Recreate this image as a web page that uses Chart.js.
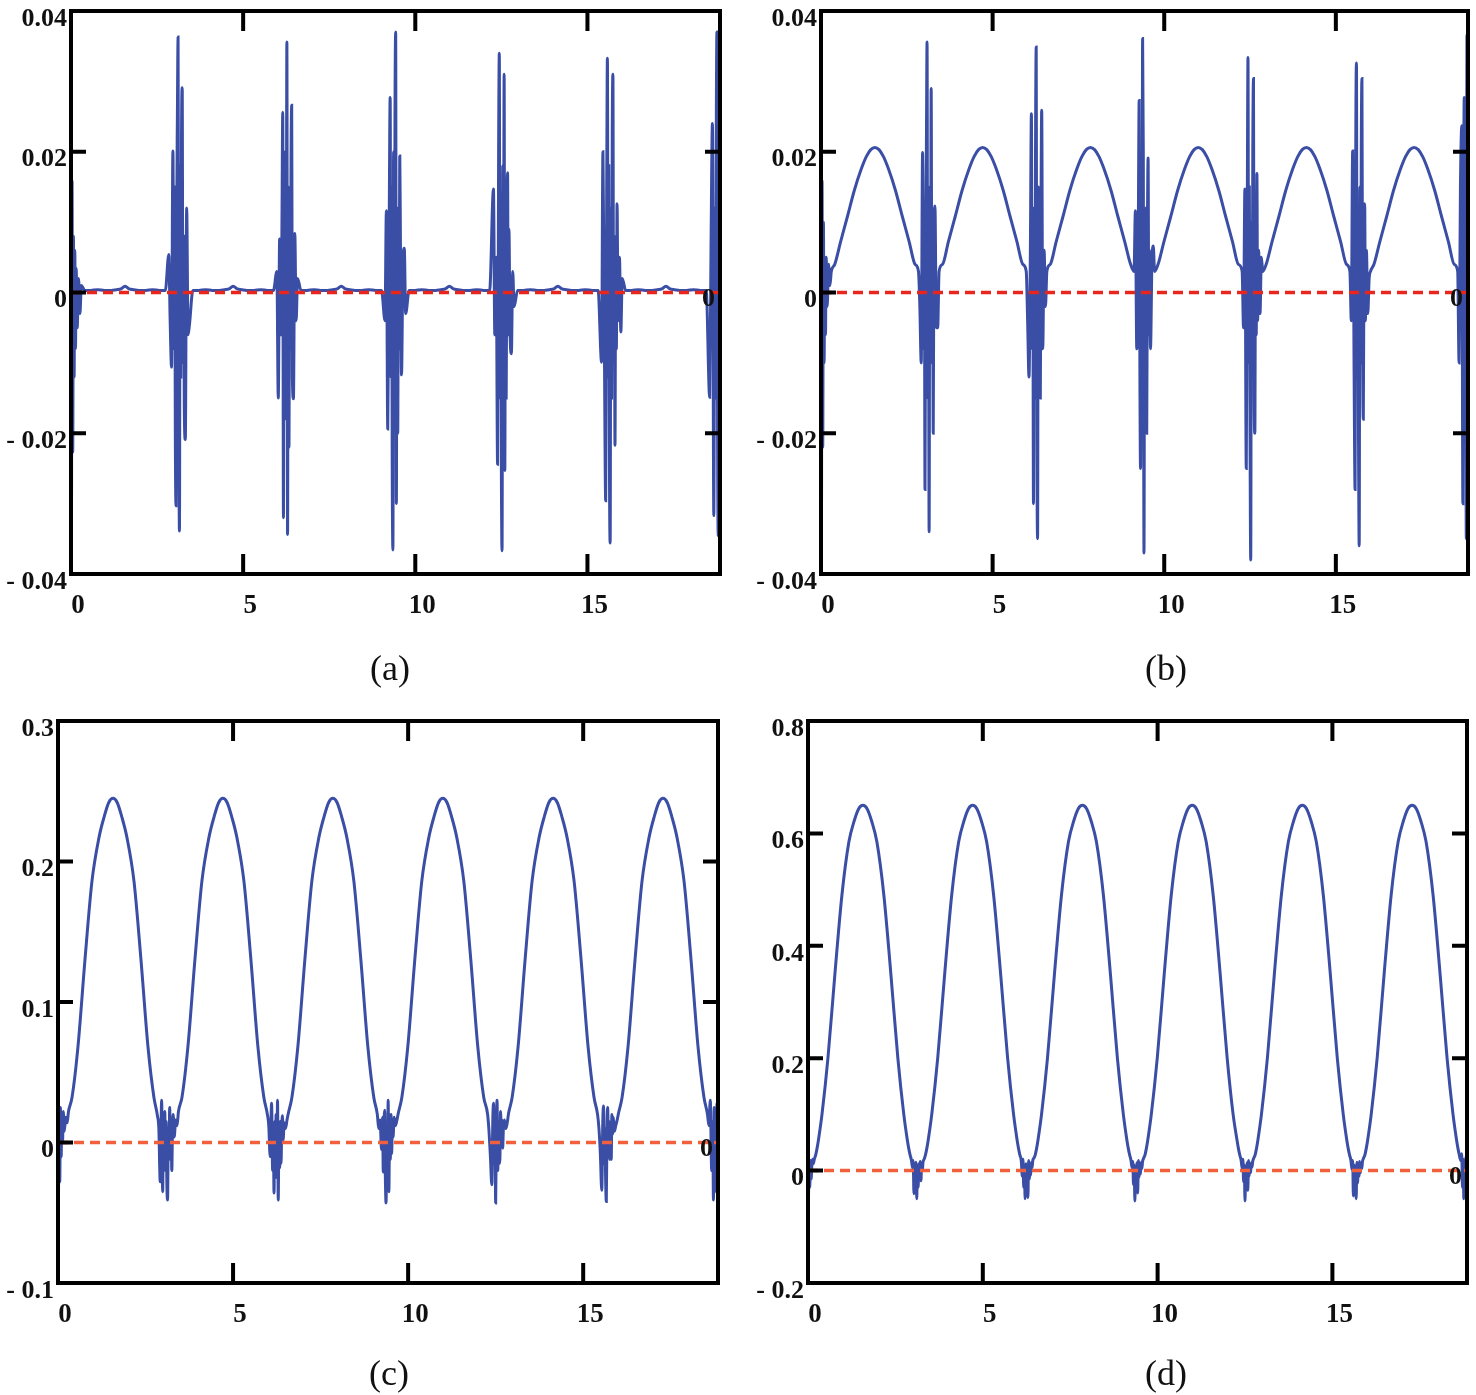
<!DOCTYPE html>
<html>
<head>
<meta charset="utf-8">
<script src="https://cdn.jsdelivr.net/npm/chart.js@4.4.1/dist/chart.umd.min.js"></script>
<style>
  body { margin: 0; background: #fff; width: 1476px; height: 1395px; position: relative; overflow: hidden; }
  canvas { position: absolute; }
  .cap { position: absolute; font-family: 'Liberation Serif', 'Times New Roman', serif; font-size: 36px; color: #111; transform: translate(-50%, -50%); }
</style>
</head>
<body>
<canvas id="chartA"></canvas>
<canvas id="chartB"></canvas>
<canvas id="chartC"></canvas>
<canvas id="chartD"></canvas>
<div class="cap" style="left:390px; top:668px">(a)</div>
<div class="cap" style="left:1166px; top:668px">(b)</div>
<div class="cap" style="left:389px; top:1373px">(c)</div>
<div class="cap" style="left:1166px; top:1373px">(d)</div>

<script>
// ===== Data =====
// shared time axis: a noise burst around every multiple of pi, a smooth arch in between
const xs = [
  0.00, 0.01, 0.03, 0.05, 0.07, 0.09, 0.11, 0.13, 0.15, 0.18, 0.22, 0.26, 0.30,
  0.40, 0.57, 0.77, 0.97, 1.17, 1.32, 1.45, 1.57, 1.69, 1.82, 1.97, 2.17, 2.37, 2.57, 2.74,
  2.84, 2.88, 2.92, 2.96, 2.99, 3.01, 3.03, 3.05, 3.07, 3.09, 3.11, 3.13, 3.15, 3.17, 3.19, 3.21, 3.23, 3.25, 3.27, 3.29, 3.32, 3.36, 3.40, 3.44,
  3.54, 3.71, 3.91, 4.11, 4.31, 4.46, 4.59, 4.71, 4.83, 4.96, 5.11, 5.31, 5.51, 5.71, 5.88,
  5.98, 6.02, 6.06, 6.10, 6.13, 6.15, 6.17, 6.19, 6.21, 6.23, 6.25, 6.27, 6.29, 6.31, 6.33, 6.35, 6.37, 6.39, 6.41, 6.43, 6.46, 6.50, 6.54, 6.58,
  6.68, 6.85, 7.05, 7.25, 7.45, 7.60, 7.73, 7.85, 7.97, 8.10, 8.25, 8.45, 8.65, 8.85, 9.02,
  9.12, 9.16, 9.20, 9.24, 9.27, 9.29, 9.31, 9.33, 9.35, 9.37, 9.39, 9.41, 9.43, 9.45, 9.47, 9.49, 9.51, 9.53, 9.55, 9.57, 9.60, 9.64, 9.68, 9.72,
  9.82, 9.99, 10.19, 10.39, 10.59, 10.74, 10.87, 10.99, 11.11, 11.24, 11.39, 11.59, 11.79, 11.99, 12.16,
  12.27, 12.31, 12.35, 12.39, 12.42, 12.44, 12.46, 12.48, 12.50, 12.52, 12.54, 12.56, 12.58, 12.60, 12.62, 12.64, 12.66, 12.68, 12.70, 12.72, 12.75, 12.79, 12.83, 12.87,
  12.97, 13.14, 13.34, 13.54, 13.74, 13.89, 14.02, 14.14, 14.26, 14.39, 14.54, 14.74, 14.94, 15.14, 15.31,
  15.41, 15.45, 15.49, 15.53, 15.56, 15.58, 15.60, 15.62, 15.64, 15.66, 15.68, 15.70, 15.72, 15.74, 15.76, 15.78, 15.80, 15.82, 15.84, 15.86, 15.89, 15.93, 15.97, 16.01,
  16.11, 16.28, 16.48, 16.68, 16.88, 17.03, 17.16, 17.28, 17.40, 17.53, 17.68, 17.88, 18.08, 18.28, 18.45,
  18.55, 18.59, 18.63, 18.67, 18.70, 18.72, 18.74, 18.76, 18.78, 18.80, 18.82, 18.84, 18.85
];

// (a)
const yA = [
  0.0337, -0.0400, 0.0159, -0.0227, 0.0080, -0.0120, 0.0060, -0.0080, 0.0034, -0.0050, 0.0020, -0.0030, 0.0010,
  0.0003, 0.0003, 0.0004, 0.0003, 0.0003, 0.0004, 0.0005, 0.0009, 0.0005, 0.0004, 0.0003, 0.0003, 0.0004, 0.0003, 0.0003,
  0.0054, -0.0040, -0.0106, 0.0201, -0.0080, 0.0150, -0.0200, -0.0303, 0.0100, 0.0250, 0.0363, -0.0150, -0.0339, 0.0180, -0.0120, 0.0220, 0.0291, -0.0100, 0.0080, -0.0160, -0.0209, 0.0120, -0.0060, -0.0046,
  0.0003, 0.0003, 0.0004, 0.0003, 0.0003, 0.0004, 0.0005, 0.0009, 0.0005, 0.0004, 0.0003, 0.0003, 0.0004, 0.0003, 0.0003,
  0.0030, -0.0150, 0.0076, -0.0060, 0.0120, 0.0256, -0.0320, 0.0080, -0.0180, 0.0200, -0.0100, 0.0356, -0.0344, 0.0150, -0.0220, 0.0100, -0.0080, 0.0180, 0.0266, -0.0120, -0.0151, 0.0084, -0.0040, 0.0020,
  0.0003, 0.0003, 0.0004, 0.0003, 0.0003, 0.0004, 0.0005, 0.0009, 0.0005, 0.0004, 0.0003, 0.0003, 0.0004, 0.0003, 0.0003,
  -0.0040, 0.0116, -0.0194, 0.0080, 0.0277, -0.0120, 0.0150, -0.0250, -0.0366, 0.0200, -0.0150, 0.0250, 0.0370, -0.0300, 0.0120, -0.0200, 0.0090, -0.0080, 0.0194, 0.0060, -0.0117, 0.0040, 0.0063, -0.0030,
  0.0003, 0.0003, 0.0004, 0.0003, 0.0003, 0.0004, 0.0005, 0.0009, 0.0005, 0.0004, 0.0003, 0.0003, 0.0004, 0.0003, 0.0003,
  0.0147, -0.0060, 0.0050, -0.0244, 0.0200, 0.0340, -0.0150, 0.0120, -0.0250, -0.0367, 0.0180, -0.0100, 0.0310, -0.0253, 0.0120, -0.0150, 0.0080, 0.0170, -0.0060, 0.0090, -0.0050, -0.0087, 0.0030, -0.0020,
  0.0003, 0.0003, 0.0004, 0.0003, 0.0003, 0.0004, 0.0005, 0.0009, 0.0005, 0.0004, 0.0003, 0.0003, 0.0004, 0.0003, 0.0003,
  -0.0099, 0.0200, -0.0060, -0.0296, 0.0150, 0.0333, -0.0120, 0.0180, -0.0250, -0.0356, 0.0120, -0.0150, 0.0220, 0.0310, -0.0100, 0.0080, -0.0217, 0.0060, -0.0080, 0.0126, -0.0040, 0.0050, -0.0056, 0.0020,
  0.0003, 0.0003, 0.0004, 0.0003, 0.0003, 0.0004, 0.0005, 0.0009, 0.0005, 0.0004, 0.0003, 0.0003, 0.0004, 0.0003, 0.0003,
  -0.0149, 0.0069, 0.0240, -0.0317, 0.0120, -0.0150, 0.0200, 0.0370, -0.0200, -0.0346, 0.0277, -0.0150, 0.0100
];

// (b)
const yB = [
  0.0330, -0.0400, 0.0159, -0.0220, 0.0100, -0.0100, 0.0044, -0.0060, 0.0050, -0.0020, 0.0040, 0.0010, 0.0030,
  0.0040, 0.0072, 0.0108, 0.0145, 0.0175, 0.0193, 0.0203, 0.0206, 0.0203, 0.0193, 0.0175, 0.0145, 0.0108, 0.0072, 0.0040,
  0.0030, -0.0020, -0.0100, 0.0199, -0.0080, 0.0120, -0.0280, 0.0080, 0.0200, 0.0356, -0.0150, 0.0100, -0.0340, 0.0150, -0.0100, 0.0290, -0.0080, 0.0060, -0.0200, 0.0080, 0.0123, -0.0050, -0.0050, 0.0030,
  0.0040, 0.0072, 0.0108, 0.0145, 0.0175, 0.0193, 0.0203, 0.0206, 0.0203, 0.0193, 0.0175, 0.0145, 0.0108, 0.0072, 0.0040,
  0.0030, -0.0040, -0.0120, 0.0060, 0.0254, -0.0080, 0.0100, -0.0300, 0.0120, -0.0150, 0.0200, 0.0349, -0.0200, -0.0350, 0.0150, -0.0100, 0.0080, -0.0150, 0.0120, 0.0259, -0.0080, 0.0060, -0.0020, 0.0030,
  0.0040, 0.0072, 0.0108, 0.0145, 0.0175, 0.0193, 0.0203, 0.0206, 0.0203, 0.0193, 0.0175, 0.0145, 0.0108, 0.0072, 0.0040,
  0.0030, 0.0116, -0.0080, 0.0050, 0.0273, -0.0100, -0.0250, 0.0120, -0.0150, 0.0361, 0.0200, -0.0370, 0.0100, -0.0150, 0.0120, -0.0200, 0.0080, 0.0191, -0.0060, 0.0060, -0.0080, 0.0040, 0.0066, 0.0030,
  0.0040, 0.0072, 0.0108, 0.0145, 0.0175, 0.0193, 0.0203, 0.0206, 0.0203, 0.0193, 0.0175, 0.0145, 0.0108, 0.0072, 0.0040,
  0.0030, -0.0050, 0.0147, -0.0250, 0.0120, 0.0334, -0.0100, 0.0150, -0.0200, -0.0380, 0.0100, -0.0120, 0.0200, 0.0304, -0.0150, -0.0200, 0.0080, -0.0060, 0.0169, -0.0040, 0.0060, -0.0030, 0.0050, 0.0030,
  0.0040, 0.0072, 0.0108, 0.0145, 0.0175, 0.0193, 0.0203, 0.0206, 0.0203, 0.0193, 0.0175, 0.0145, 0.0108, 0.0072, 0.0040,
  0.0030, -0.0040, 0.0201, -0.0100, -0.0280, 0.0200, 0.0326, -0.0120, 0.0100, -0.0200, -0.0360, 0.0150, -0.0100, 0.0200, 0.0304, -0.0080, -0.0180, 0.0060, 0.0126, -0.0040, 0.0060, -0.0030, 0.0020, 0.0030,
  0.0040, 0.0072, 0.0108, 0.0145, 0.0175, 0.0193, 0.0203, 0.0206, 0.0203, 0.0193, 0.0175, 0.0145, 0.0108, 0.0072, 0.0040,
  0.0030, -0.0100, 0.0150, 0.0237, -0.0300, 0.0080, 0.0277, -0.0150, 0.0120, -0.0350, 0.0366, -0.0200, 0.0100
];

// (c)
const yC = [
  0.028, -0.046, 0.020, -0.028, 0.025, -0.010, 0.018, 0.000, 0.022, 0.008, 0.018, 0.014, 0.022,
  0.032, 0.068, 0.130, 0.186, 0.217, 0.232, 0.242, 0.245, 0.242, 0.232, 0.217, 0.186, 0.130, 0.068, 0.032,
  0.019, 0.010, -0.028, 0.030, -0.035, 0.012, -0.015, 0.022, -0.020, 0.015, -0.030, -0.041, 0.010, -0.012, 0.025, -0.008, 0.015, -0.020, 0.010, 0.020, 0.004, 0.016, 0.012, 0.022,
  0.032, 0.068, 0.130, 0.186, 0.217, 0.232, 0.242, 0.245, 0.242, 0.232, 0.217, 0.186, 0.130, 0.068, 0.032,
  0.020, 0.012, -0.010, 0.028, -0.020, 0.010, -0.036, 0.015, -0.010, 0.020, -0.025, 0.030, -0.041, 0.008, -0.018, 0.015, -0.015, 0.010, 0.019, 0.002, 0.014, 0.010, 0.016, 0.021,
  0.032, 0.068, 0.130, 0.186, 0.217, 0.232, 0.242, 0.245, 0.242, 0.232, 0.217, 0.186, 0.130, 0.068, 0.032,
  0.020, 0.010, 0.016, -0.005, 0.018, -0.021, 0.010, 0.023, -0.025, -0.043, 0.012, -0.015, 0.030, -0.035, 0.010, -0.012, 0.020, -0.008, 0.015, 0.004, 0.018, 0.012, 0.016, 0.021,
  0.032, 0.068, 0.130, 0.186, 0.217, 0.232, 0.242, 0.245, 0.242, 0.232, 0.217, 0.186, 0.130, 0.068, 0.032,
  0.020, 0.008, -0.010, -0.030, 0.018, 0.028, -0.015, 0.012, -0.043, 0.010, 0.030, -0.020, 0.015, -0.015, -0.012, 0.022, 0.005, 0.016, -0.004, 0.010, 0.016, 0.010, 0.014, 0.021,
  0.032, 0.068, 0.130, 0.186, 0.217, 0.232, 0.242, 0.245, 0.242, 0.232, 0.217, 0.186, 0.130, 0.068, 0.032,
  0.020, 0.010, -0.008, -0.034, 0.015, 0.026, -0.015, 0.010, -0.025, -0.042, 0.012, 0.025, -0.010, 0.015, -0.012, 0.005, -0.012, 0.020, 0.006, 0.018, 0.008, 0.012, 0.016, 0.021,
  0.032, 0.068, 0.130, 0.186, 0.217, 0.232, 0.242, 0.245, 0.242, 0.232, 0.217, 0.186, 0.130, 0.068, 0.032,
  0.020, 0.012, 0.030, -0.020, 0.015, -0.041, 0.025, -0.030, 0.020, -0.035, 0.028, -0.025, 0.010
];

// (d)
const yD = [
  0.020, -0.057, 0.015, -0.030, 0.018, -0.015, 0.010, 0.020, 0.012, 0.020, 0.028, 0.040, 0.055,
  0.100, 0.200, 0.350, 0.490, 0.585, 0.622, 0.644, 0.650, 0.644, 0.622, 0.585, 0.490, 0.350, 0.200, 0.100,
  0.055, 0.040, 0.028, 0.018, 0.005, 0.018, -0.041, 0.010, -0.020, 0.015, -0.050, 0.005, -0.030, 0.012, -0.015, 0.016, -0.018, 0.010, 0.000, 0.015, 0.020, 0.028, 0.040, 0.055,
  0.100, 0.200, 0.350, 0.490, 0.585, 0.622, 0.644, 0.650, 0.644, 0.622, 0.585, 0.490, 0.350, 0.200, 0.100,
  0.055, 0.040, 0.028, 0.018, -0.010, 0.020, -0.030, 0.010, -0.050, 0.012, -0.020, 0.010, -0.048, 0.018, -0.015, 0.012, -0.008, 0.015, 0.005, 0.018, 0.022, 0.028, 0.040, 0.055,
  0.100, 0.200, 0.350, 0.490, 0.585, 0.622, 0.644, 0.650, 0.644, 0.622, 0.585, 0.490, 0.350, 0.200, 0.100,
  0.055, 0.040, 0.028, 0.018, 0.005, 0.016, -0.025, 0.010, -0.054, 0.008, -0.020, 0.014, -0.040, 0.018, -0.012, 0.012, -0.006, 0.015, 0.004, 0.016, 0.022, 0.028, 0.040, 0.055,
  0.100, 0.200, 0.350, 0.490, 0.585, 0.622, 0.644, 0.650, 0.644, 0.622, 0.585, 0.490, 0.350, 0.200, 0.100,
  0.055, 0.040, 0.028, 0.018, 0.004, 0.020, -0.020, 0.010, -0.054, 0.008, -0.030, 0.014, -0.035, 0.018, -0.010, 0.012, -0.004, 0.014, 0.006, 0.016, 0.022, 0.028, 0.040, 0.055,
  0.100, 0.200, 0.350, 0.490, 0.585, 0.622, 0.644, 0.650, 0.644, 0.622, 0.585, 0.490, 0.350, 0.200, 0.100,
  0.055, 0.040, 0.028, 0.018, 0.002, 0.018, -0.045, 0.010, -0.020, 0.006, -0.050, 0.015, -0.022, 0.012, -0.010, 0.016, -0.004, 0.012, 0.004, 0.016, 0.022, 0.028, 0.040, 0.055,
  0.100, 0.200, 0.350, 0.490, 0.585, 0.622, 0.644, 0.650, 0.644, 0.622, 0.585, 0.490, 0.350, 0.200, 0.100,
  0.055, 0.040, 0.028, 0.018, 0.030, -0.030, 0.020, -0.050, 0.015, -0.040, 0.025, -0.045, 0.010
];

// dashed zero reference line
const refX = [0, 18.85];
const refY = [0, 0];

// axes
const xRange = [0, 18.85];
const xTicks = [0, 5, 10, 15];

const yRangeA = [-0.04, 0.04];
const yTicksA = [-0.04, -0.02, 0, 0.02, 0.04];
const yTextA = ['- 0.04', '- 0.02', '0', '0.02', '0.04'];

const yRangeC = [-0.1, 0.3];
const yTicksC = [-0.1, 0, 0.1, 0.2, 0.3];
const yTextC = ['- 0.1', '0', '0.1', '0.2', '0.3'];

const yRangeD = [-0.2, 0.8];
const yTicksD = [-0.2, 0, 0.2, 0.4, 0.6, 0.8];
const yTextD = ['- 0.2', '0', '0.2', '0.4', '0.6', '0.8'];

// ===== Drawing =====
const FONT = "'Liberation Serif', 'Times New Roman', serif";
const BLUE = '#3b4ea6';
const M_LEFT = 80, M_TOP = 40, M_RIGHT = 20, M_BOTTOM = 70;

// Mathcad-style frame with inward ticks, plus the "0" marker label
const framePlugin = {
  id: 'frame',
  afterDatasetsDraw(chart) {
    const { ctx, chartArea: a } = chart;
    const x = chart.scales.x, y = chart.scales.y;
    ctx.save();
    ctx.strokeStyle = '#000';
    ctx.lineWidth = 4;
    ctx.strokeRect(a.left, a.top, a.right - a.left, a.bottom - a.top);
    ctx.beginPath();
    x.ticks.forEach(t => {
      const px = x.getPixelForValue(t.value);
      if (px <= a.left + 3) return;
      ctx.moveTo(px, a.bottom); ctx.lineTo(px, a.bottom - 20);
      ctx.moveTo(px, a.top); ctx.lineTo(px, a.top + 20);
    });
    y.ticks.forEach(t => {
      const py = y.getPixelForValue(t.value);
      if (py <= a.top + 3 || py >= a.bottom - 3) return;
      ctx.moveTo(a.left, py); ctx.lineTo(a.left + 15, py);
      if (t.value !== 0) { ctx.moveTo(a.right, py); ctx.lineTo(a.right - 15, py); }
    });
    ctx.stroke();
    ctx.fillStyle = '#111';
    ctx.font = 'bold 26px ' + FONT;
    ctx.textAlign = 'right';
    ctx.textBaseline = 'middle';
    ctx.fillText('0', a.right - 5, y.getPixelForValue(0) + 7);
    ctx.restore();
  }
};

function makePanel(id, box, ys, yRange, yTicks, yText, refColor, lineW) {
  const cv = document.getElementById(id);
  cv.width = (box.r - box.l) + M_LEFT + M_RIGHT;
  cv.height = (box.b - box.t) + M_TOP + M_BOTTOM;
  cv.style.left = (box.l - M_LEFT) + 'px';
  cv.style.top = (box.t - M_TOP) + 'px';

  const signal = xs.map((x, i) => ({ x: x, y: ys[i] }));
  const ref = refX.map((x, i) => ({ x: x, y: refY[i] }));

  new Chart(cv.getContext('2d'), {
    type: 'line',
    data: {
      datasets: [
        { data: ref, borderColor: refColor, borderWidth: 3.5, borderDash: [10, 6], pointRadius: 0, fill: false },
        { data: signal, borderColor: BLUE, borderWidth: lineW, pointRadius: 0, fill: false,
          cubicInterpolationMode: 'monotone' }
      ]
    },
    options: {
      responsive: false,
      animation: false,
      devicePixelRatio: 1,
      layout: { padding: { top: M_TOP, right: M_RIGHT, left: 0, bottom: 0 } },
      plugins: { legend: { display: false }, tooltip: { enabled: false } },
      scales: {
        x: {
          type: 'linear', min: xRange[0], max: xRange[1],
          grid: { display: false, drawTicks: false }, border: { display: false },
          afterBuildTicks: s => { s.ticks = xTicks.map(v => ({ value: v })); },
          afterFit: s => { s.height = M_BOTTOM; },
          ticks: { font: { family: FONT, size: 27, weight: 'bold' }, color: '#111', padding: 16, labelOffset: 7, maxRotation: 0,
                   callback: v => String(v) }
        },
        y: {
          type: 'linear', min: yRange[0], max: yRange[1],
          grid: { display: false, drawTicks: false }, border: { display: false },
          afterBuildTicks: s => { s.ticks = yTicks.map(v => ({ value: v })); },
          afterFit: s => { s.width = M_LEFT; },
          ticks: { font: { family: FONT, size: 26, weight: 'bold' }, color: '#111', padding: 4, labelOffset: 8,
                   callback: (v, i) => yText[i] }
        }
      }
    },
    plugins: [framePlugin]
  });
}

makePanel('chartA', { l: 71, t: 11, r: 720, b: 574 }, yA, yRangeA, yTicksA, yTextA, '#e8261e', 3);
makePanel('chartB', { l: 821, t: 11, r: 1468, b: 574 }, yB, yRangeA, yTicksA, yTextA, '#e8261e', 3);
makePanel('chartC', { l: 58, t: 721, r: 718, b: 1283 }, yC, yRangeC, yTicksC, yTextC, '#f0603c', 3);
makePanel('chartD', { l: 808, t: 721, r: 1467, b: 1283 }, yD, yRangeD, yTicksD, yTextD, '#f0603c', 3);
</script>
</body>
</html>
